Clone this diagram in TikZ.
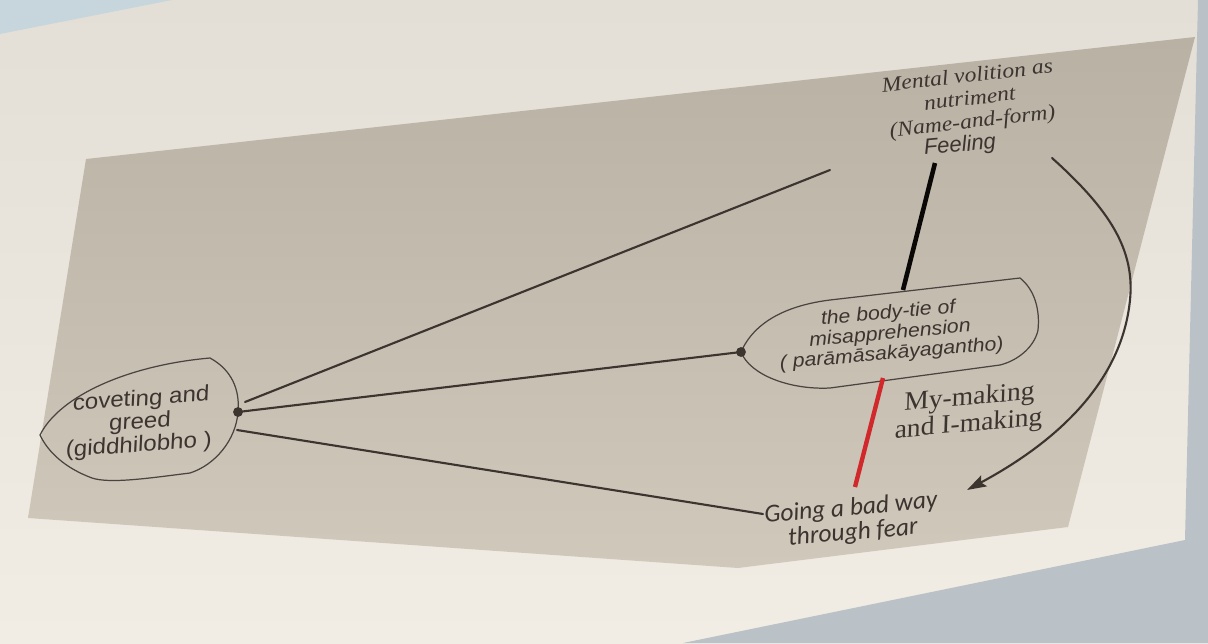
\documentclass[tikz,border=0pt]{standalone}
\usepackage{fontspec}
\setmainfont{Liberation Serif}
\setsansfont{Liberation Sans}
\newfontfamily\carlito{Carlito}
\usetikzlibrary{arrows.meta}
\definecolor{wallhi}{HTML}{E3DFD7}
\definecolor{walllo}{HTML}{F1EDE4}
\definecolor{sky}{HTML}{C7D6DC}
\definecolor{floorg}{HTML}{BAC2C7}
\definecolor{panelhi}{HTML}{BAB1A5}
\definecolor{panello}{HTML}{D1C8BC}
\definecolor{ink}{HTML}{3B342F}
\definecolor{rim}{HTML}{4A4440}
\definecolor{tiered}{HTML}{D1282B}

\begin{document}
\begin{tikzpicture}[x=0.02cm,y=-0.02cm,>=Stealth,
  lnk/.style={line width=1.2pt,draw=ink,line cap=round},
  blob/.style={draw=rim,line width=0.7pt},
  lbl/.style={text=ink,align=center,inner sep=0pt,rotate=5},
  persp/.style={xslant=0.12}]
\useasboundingbox (0,0) rectangle (1208,643);
% wall, sky, floor
\shade[top color=wallhi,bottom color=walllo] (0,0) rectangle (1208,643);
\fill[sky] (0,0) -- (172,0) -- (0,34) -- cycle;
\fill[floorg] (1198,0) -- (1208,0) -- (1208,643) -- (683,643) -- (1185,540) -- cycle;
% panel
\shade[top color=panelhi,bottom color=panello] (86,159) -- (1195,37) -- (1068,527) -- (738,568) -- (28,518) -- cycle;
% shapes
\draw[blob] (40,435) .. controls (60,395) and (130,365) .. (210,358)
  .. controls (232,370) and (240,390) .. (238,412)
  .. controls (236,440) and (215,465) .. (190,473)
  .. controls (150,478) and (110,484) .. (92,478)
  .. controls (65,468) and (48,452) .. (40,435) -- cycle;
\draw[blob] (741,352) .. controls (755,320) and (790,305) .. (830,300) -- (1020,278)
  .. controls (1035,290) and (1040,310) .. (1038,330)
  .. controls (1035,345) and (1020,360) .. (1000,365) -- (830,388)
  .. controls (790,390) and (750,375) .. (741,352) -- cycle;
% labels
\node[lbl,rotate=1.5,font=\itshape\fontsize{12}{13}\selectfont,xscale=1.12] (vol) at (970,100) {Mental volition as\\nutriment\\(Name-and-form)};
\node[lbl,font=\sffamily\itshape\fontsize{12.5}{12}\selectfont] (feel) at (960,146) {Feeling};
\node[lbl,font=\sffamily\itshape\fontsize{11}{11.6}\selectfont,xscale=1.1] (tie) at (890,334) {the body-tie of\\misapprehension\\( parāmāsakāyagantho)};
\node[lbl,persp,rotate=-1,font=\sffamily\fontsize{12.5}{13}\selectfont,xscale=1.1] (cov) at (140,423) {coveting and\\greed\\(giddhilobho )};
\node[lbl,persp,font=\fontsize{15}{15}\selectfont,xscale=1.05] (mine) at (969,412) {My-making\\and I-making};
\node[lbl,font=\carlito\itshape\fontsize{14.5}{14}\selectfont] (go) at (852,521) {Going a bad way\\through fear};
% connector ends
\coordinate (volW) at (830,170);
\coordinate (volE) at (1052,158);
\coordinate (feelS) at (935,163);
\coordinate (tieN) at (903,290);
\coordinate (tieS) at (883,378);
\coordinate (tieW) at (741,352);
\coordinate (covE) at (238,412);
\coordinate (covNE) at (245,402);
\coordinate (covSE) at (237,430);
\coordinate (goW) at (763,514);
\coordinate (goN) at (855,487);
\coordinate (goNE) at (967,490);
% connectors
\draw[lnk] (covNE) -- (volW);
\draw[lnk] (covE) -- (tieW);
\draw[lnk] (covSE) -- (goW);
\draw[line width=2.6pt,draw=black!85!ink] (feelS) -- (tieN);
\draw[line width=2.5pt,draw=tiered] (tieS) -- (goN);
\draw[lnk,->,>={Stealth[length=11pt,width=7pt,inset=2pt]}] (volE) .. controls (1110,210) and (1135,250) .. (1130,300)
  .. controls (1122,380) and (1060,440) .. (goNE);
\fill[ink] (covE) circle[radius=2.8pt];
\fill[ink] (tieW) circle[radius=2.8pt];
\end{tikzpicture}
\end{document}
